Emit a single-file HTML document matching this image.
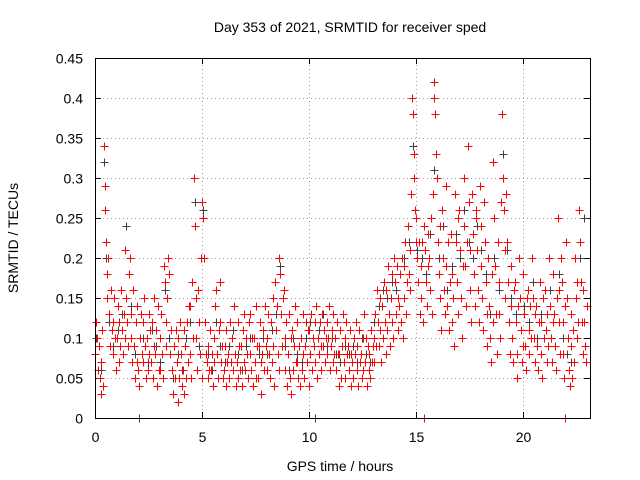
<!DOCTYPE html>
<html><head><meta charset="utf-8"><style>
body{margin:0;background:#fff;}
svg{display:block;font-family:"Liberation Sans",sans-serif;}
</style></head><body>
<svg id="chart" width="640" height="480">
<rect width="640" height="480" fill="#fff"/>
<text x="350" y="32" text-anchor="middle" font-size="14">Day 353 of 2021, SRMTID for receiver sped</text>
<text x="340" y="471" text-anchor="middle" font-size="14">GPS time / hours</text>
<text transform="translate(18,238) rotate(-90)" text-anchor="middle" font-size="14">SRMTID / TECUs</text>
<g id="grid"></g><g id="ticks"></g><g id="black"></g><g id="red"></g>
<rect x="95.5" y="58.5" width="495" height="360" fill="none" stroke="#000"/>
</svg>
<script>
const xTicks=[0,5,10,15,20];
const yTicks=[0,0.05,0.1,0.15,0.2,0.25,0.3,0.35,0.4,0.45];
const yTickLabels=["0","0.05","0.1","0.15","0.2","0.25","0.3","0.35","0.4","0.45"];
const binWidth=0.2;
const redBins=[
[0.08,0.12,0.1,0.06,0.09],[0.05,0.03,0.07,0.11,0.04],[0.34,0.29,0.26,0.22,0.18,0.15],[0.2,0.13,0.09,0.16,0.11],[0.12,0.08,0.15,0.1,0.06],
[0.1,0.14,0.07,0.12,0.09],[0.16,0.11,0.08,0.13,0.1],[0.21,0.15,0.12,0.09,0.18],[0.2,0.1,0.13,0.07,0.16],[0.09,0.05,0.12,0.07,0.14],
[0.06,0.04,0.1,0.13,0.08],[0.12,0.07,0.15,0.09,0.05],[0.1,0.06,0.13,0.08,0.11],[0.07,0.12,0.05,0.09,0.15],[0.08,0.11,0.04,0.14,0.06],
[0.1,0.06,0.13,0.08,0.05],[0.19,0.17,0.12,0.09,0.15],[0.2,0.18,0.08,0.11,0.06],[0.06,0.03,0.09,0.05,0.11],[0.07,0.02,0.1,0.05,0.12],
[0.08,0.04,0.06,0.11,0.03],[0.09,0.05,0.12,0.07,0.14],[0.14,0.08,0.05,0.17,0.1],[0.3,0.24,0.15,0.1,0.06],[0.16,0.12,0.08,0.2,0.05],
[0.27,0.25,0.2,0.12,0.08],[0.07,0.05,0.09,0.06,0.11],[0.06,0.08,0.04,0.1,0.07],[0.14,0.16,0.08,0.05,0.11],[0.17,0.12,0.07,0.09,0.05],
[0.06,0.09,0.04,0.11,0.07],[0.08,0.05,0.12,0.07,0.1],[0.1,0.06,0.14,0.08,0.04],[0.07,0.12,0.05,0.09,0.06],[0.09,0.04,0.11,0.07,0.13],
[0.06,0.1,0.08,0.05,0.12],[0.08,0.13,0.06,0.1,0.04],[0.1,0.07,0.14,0.05,0.09],[0.05,0.09,0.12,0.07,0.03],[0.08,0.11,0.06,0.14,0.09],
[0.1,0.06,0.13,0.08,0.05],[0.12,0.07,0.15,0.09,0.04],[0.17,0.11,0.14,0.08,0.06],[0.2,0.18,0.13,0.09,0.15],[0.16,0.1,0.06,0.12,0.04],
[0.08,0.13,0.05,0.1,0.03],[0.11,0.06,0.09,0.14,0.07],[0.07,0.12,0.05,0.09,0.04],[0.1,0.06,0.08,0.13,0.05],[0.09,0.12,0.07,0.11,0.04],
[0.11,0.08,0.13,0.06,0.1],[0.09,0.12,0.07,0.14,0.05],[0.1,0.08,0.12,0.06,0.09],[0.13,0.09,0.11,0.07,0.1],[0.12,0.08,0.1,0.14,0.06],
[0.09,0.11,0.07,0.13,0.08],[0.1,0.06,0.12,0.08,0.04],[0.08,0.11,0.05,0.09,0.13],[0.07,0.1,0.05,0.12,0.08],[0.09,0.06,0.11,0.04,0.08],
[0.07,0.05,0.1,0.08,0.12],[0.06,0.09,0.04,0.11,0.07],[0.08,0.05,0.1,0.06,0.13],[0.07,0.1,0.04,0.09,0.06],[0.08,0.05,0.11,0.07,0.09],
[0.1,0.07,0.13,0.09,0.16],[0.12,0.09,0.15,0.11,0.07],[0.14,0.1,0.17,0.12,0.08],[0.16,0.11,0.19,0.13,0.09],[0.15,0.12,0.18,0.1,0.2],
[0.17,0.13,0.19,0.11,0.15],[0.14,0.18,0.12,0.2,0.1],[0.19,0.15,0.22,0.13,0.17],[0.24,0.18,0.21,0.16,0.28],[0.4,0.38,0.33,0.3,0.26,0.22],
[0.25,0.2,0.17,0.22,0.13],[0.19,0.15,0.22,0.12,0.24,0],[0.21,0.17,0.14,0.23,0.19],[0.2,0.16,0.25,0.13,0.28],[0.42,0.4,0.38,0.33,0.3],
[0.22,0.18,0.24,0.15,0.11],[0.26,0.2,0.16,0.13,0.29],[0.19,0.14,0.22,0.11,0.17],[0.23,0.18,0.12,0.15,0.09],[0.28,0.22,0.17,0.13,0.25],
[0.26,0.21,0.15,0.1,0.19],[0.3,0.24,0.19,0.14,0.22],[0.34,0.27,0.21,0.16,0.12],[0.28,0.23,0.18,0.14,0.25],[0.26,0.21,0.16,0.12,0.29],
[0.24,0.19,0.15,0.11,0.27],[0.22,0.17,0.13,0.09,0.2],[0.14,0.1,0.07,0.18,0.12],[0.32,0.25,0.19,0.13,0.08],[0.22,0.17,0.13,0.1,0.27],
[0.38,0.3,0.26,0.21,0.15],[0.28,0.22,0.17,0.12,0.08],[0.19,0.14,0.1,0.07,0.16],[0.17,0.12,0.08,0.05,0.14],[0.2,0.15,0.11,0.07,0.09],
[0.18,0.13,0.09,0.06,0.15],[0.16,0.11,0.08,0.14,0.1],[0.2,0.15,0.1,0.07,0.13],[0.14,0.09,0.06,0.12,0.17],[0.12,0.08,0.05,0.15,0.1],
[0.16,0.11,0.07,0.13,0.09],[0.2,0.14,0.1,0.07,0.12],[0.18,0.13,0.09,0.06,0.15],[0.25,0.16,0.12,0.08,0.2],[0.17,0.12,0.08,0.05,0.14,0],
[0.22,0.15,0.1,0.06,0.04],[0.13,0.09,0.05,0.11,0.07],[0.2,0.15,0.1,0.17,0.12],[0.26,0.22,0.17,0.12,0.08],[0.16,0.12,0.09,0.07,0.14]
];
const blackBins=[
[0.1],[0.06],[0.32,0.2],[0.12],[0.09],[0.11],[0.13],[0.24],[0.14],[0.08],[0.0],[0.1],[0.07],[0.11],[0.09],
[0.07],[0.16],[0.1],[0.05],[0.08],[0.06],[0.1],[0.12],[0.27],[0.09],[0.26],[0.08],[0.06],[0.12],[0.09],
[0.07],[0.09],[0.11],[0.08],[0.06],[0.09],[0.1],[0.07],[0.08],[0.1],[0.08],[0.11],[0.13],[0.19],[0.09],
[0.06],[0.1],[0.08],[0.07],[0.1],[0.12],[0.0],[0.11],[0.13],[0.09],[0.1],[0.08],[0.07],[0.09],[0.08],
[0.09],[0.07],[0.1],[0.08],[0.07],[0.12],[0.14],[0.16],[0.15],[0.17],[0.16],[0.18],[0.2],[0.22],[0.34],
[0.21],[0.2],[0.18],[0.23],[0.31],[0.2],[0.24],[0.16],[0.19],[0.23],[0.2],[0.26],[0.22],[0.2],[0.24],
[0.21],[0.18],[0.13],[0.2],[0.16],[0.33],[0.21],[0.15],[0.13],[0.15],[0.14],[0.12],[0.17],[0.1],[0.13],
[0.11],[0.16],[0.13],[0.18],[0.1],[0.08],[0.07],[0.15],[0.2],[0.25]
];
const X0=95,X1=590,Y0=418,Y1=58,XMAX=23.13,YMAX=0.45;
const xs=v=>X0+(X1-X0)*v/XMAX;
const ys=v=>Y0-(Y0-Y1)*v/YMAX;
const px=v=>Math.round(v)+0.5;
const NS="http://www.w3.org/2000/svg";
function mk(tag,attrs,parent){const e=document.createElementNS(NS,tag);for(const k in attrs)e.setAttribute(k,attrs[k]);parent.appendChild(e);return e;}
const grid=document.getElementById('grid'),ticks=document.getElementById('ticks');
yTicks.forEach((t,i)=>{
  const y=px(ys(t));
  if(i>0&&i<yTicks.length-1){const g=mk('line',{x1:X0,x2:X1,y1:y,y2:y,stroke:'#a0a0a0','stroke-dasharray':'1,3'},grid);
  
  }
  const tl=mk('line',{x1:X0,x2:X0+6,y1:y,y2:y,stroke:'#000'},ticks);
  
  
  const tr=mk('line',{x1:X1-6,x2:X1,y1:y,y2:y,stroke:'#000'},ticks);
  
  
  const tx=mk('text',{x:X0-12,y:y+5,'text-anchor':'end','font-size':14},ticks);tx.textContent=yTickLabels[i];
  
  
});
xTicks.forEach(t=>{
  const x=px(xs(t));
  if(t>0){const g=mk('line',{x1:x,x2:x,y1:Y0,y2:Y1,stroke:'#a0a0a0','stroke-dasharray':'1,3'},grid);
  
  }
  const tb=mk('line',{x1:x,x2:x,y1:Y0,y2:Y0-6,stroke:'#000'},ticks);
  
  
  const tt=mk('line',{x1:x,x2:x,y1:Y1,y2:Y1+6,stroke:'#000'},ticks);
  
  
  const tx=mk('text',{x:x,y:Y0+24,'text-anchor':'middle','font-size':14},ticks);tx.textContent=String(t);
  
  
});
function plot(bins,color,gid,name,offset){
  const g=document.getElementById(gid);
  let d='';
  bins.forEach((vals,i)=>{vals.forEach((v,j)=>{
    const t=i*binWidth+binWidth*(j+offset)/vals.length;
    const x=px(xs(t)),y=px(ys(v));
    d+=`M${x-4} ${y}h8M${x} ${y-4}v8`;
  });});
  const p=mk('path',{d:d,stroke:color,'stroke-width':1,fill:'none'},g);
  
  
}
plot(blackBins,'#404040','black','black-series-points',0.3);
plot(redBins,'#ff0000','red','red-series-points',0.5);
</script>
</body></html>
